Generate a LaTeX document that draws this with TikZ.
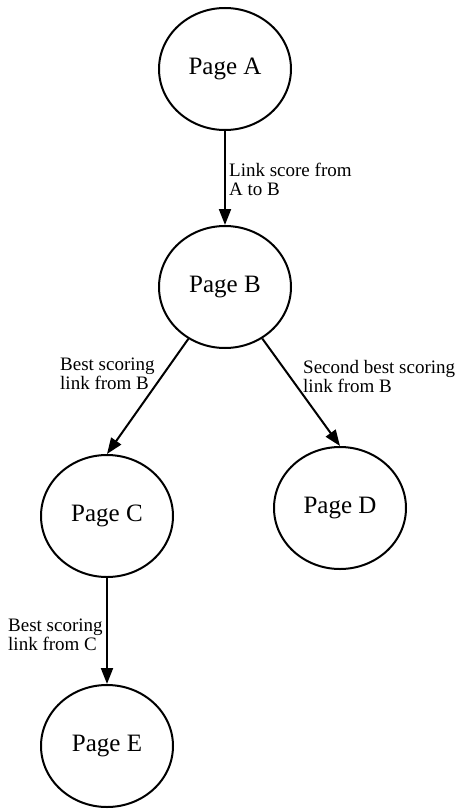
\documentclass[tikz,border=0pt]{standalone}
\usepackage{fontspec}
\setmainfont{Liberation Serif}
\usetikzlibrary{shapes.geometric,arrows.meta}
\tikzset {
  page style/.style = {
    ellipse,
    draw=black,
    line width=2pt,
    minimum width=132pt,
    minimum height=122pt,
    inner sep=0pt,
    font=\fontsize{25}{30}\selectfont
  },
  link style/.style = {
    -{Triangle[length=16pt, width=12pt]},
    line width=2pt
  },
  label style/.style = {
    anchor=west,
    align=left,
    inner sep=0pt,
    font=\fontsize{19}{19}\selectfont
  }
}

\begin{document}
\begin{tikzpicture}[x=1pt, y=-1pt]

\useasboundingbox (0,0) rectangle (457,811);

% --- Pages ---
\node[page style] (pageA) at (225, 69) {Page A};
\node[page style] (pageB) at (225,287) {Page B};
\node[page style] (pageC) at (107,516) {Page C};
\node[page style] (pageD) at (340,508) {Page D};
\node[page style] (pageE) at (107,746) {Page E};

% --- Links ---
\draw[link style] (pageA) -- (pageB);
\draw[link style] (pageB) -- (pageC.north);
\draw[link style] (pageB) -- (pageD.north);
\draw[link style] (pageC) -- (pageE);

% --- Link labels ---
\node[label style] (scoreAB) at (229,179) {Link score from\\A to B};
\node[label style] (bestB)   at ( 60,374) {Best scoring\\link from B};
\node[label style] (secondB) at (303,376) {Second best scoring\\link from B};
\node[label style] (bestC)   at (  8,635) {Best scoring\\link from C};

\end{tikzpicture}
\end{document}
